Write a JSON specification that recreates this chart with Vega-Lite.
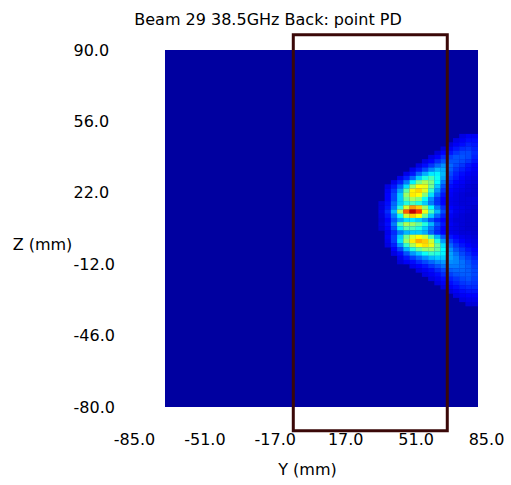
{
  "$schema": "https://vega.github.io/schema/vega-lite/v6.json",
  "autosize": {"type": "none"},
  "padding": {"left": 134, "top": 50, "right": 25, "bottom": 78},
  "width": 352,
  "height": 357,
  "background": "white",
  "title": {"text": "Beam 29 38.5GHz Back: point PD", "anchor": "middle", "frame": "group", "dx": -42, "dy": 19, "baseline": "alphabetic", "offset": 11, "font": "DejaVu Sans", "fontSize": 16, "fontWeight": "normal", "color": "#000000"},
  "config": {
    "view": {"stroke": null},
    "axisX": {"domain": false, "ticks": false, "grid": false, "labelPadding": 24, "labelFont": "DejaVu Sans", "labelFontSize": 16, "labelColor": "#000000", "titleFont": "DejaVu Sans", "titleFontSize": 16, "titleFontWeight": "normal", "titleColor": "#000000", "titleY": 62, "titleBaseline": "middle", "titleX": 173, "labelFlush": false, "labelOverlap": false},
    "axisY": {"domain": false, "ticks": false, "grid": false, "labelAlign": "left", "labelPadding": 61, "labelFont": "DejaVu Sans", "labelFontSize": 16, "labelColor": "#000000", "titleFont": "DejaVu Sans", "titleFontSize": 16, "titleFontWeight": "normal", "titleColor": "#000000", "titleAngle": 0, "titleX": -92, "titleY": 194, "titleAlign": "center", "titleBaseline": "middle", "labelFlush": false, "labelOverlap": false}
  },
  "layer": [
    {
      "data": {"values": [{"y1": -70.03, "y2": 81.14, "z1": -80, "z2": 90}]},
      "mark": {"type": "rect", "color": "#0000a0"},
      "encoding": {
        "x": {"field": "y1", "type": "quantitative", "title": "Y (mm)", "scale": {"domain": [-85, 85], "nice": false, "zero": false}, "axis": {"values": [-85, -51, -17, 17, 51, 85], "labelExpr": "(datum.value < 0 ? '-' : '') + format(abs(datum.value), '.1f')"}},
        "x2": {"field": "y2"},
        "y": {"field": "z1", "type": "quantitative", "title": "Z (mm)", "scale": {"domain": [-80, 90], "nice": false, "zero": false}, "axis": {"values": [-80, -46, -12, 22, 56, 90], "labelExpr": "(datum.value < 0 ? '-' : '') + format(abs(datum.value), '.1f')"}},
        "y2": {"field": "z2"}
      }
    },
    {
      "data": {"values": [
{"y":73.6,"z":49,"v":0.07},{"y":76.6,"z":49,"v":0.09},{"y":79.6,"z":49,"v":0.09},
{"y":70.6,"z":47,"v":0.07},{"y":73.6,"z":47,"v":0.09},{"y":76.6,"z":47,"v":0.11},{"y":79.6,"z":47,"v":0.11},
{"y":67.6,"z":45,"v":0.06},{"y":70.6,"z":45,"v":0.09},{"y":73.6,"z":45,"v":0.11},{"y":76.6,"z":45,"v":0.13},{"y":79.6,"z":45,"v":0.12},
{"y":64.6,"z":43,"v":0.06},{"y":67.6,"z":43,"v":0.09},{"y":70.6,"z":43,"v":0.12},{"y":73.6,"z":43,"v":0.14},{"y":76.6,"z":43,"v":0.15},{"y":79.6,"z":43,"v":0.13},
{"y":61.6,"z":41,"v":0.06},{"y":64.6,"z":41,"v":0.1},{"y":67.6,"z":41,"v":0.12},{"y":70.6,"z":41,"v":0.15},{"y":73.6,"z":41,"v":0.17},{"y":76.6,"z":41,"v":0.17},{"y":79.6,"z":41,"v":0.14},
{"y":58.6,"z":39,"v":0.07},{"y":61.6,"z":39,"v":0.1},{"y":64.6,"z":39,"v":0.14},{"y":67.6,"z":39,"v":0.16},{"y":70.6,"z":39,"v":0.18},{"y":73.6,"z":39,"v":0.18},{"y":76.6,"z":39,"v":0.17},{"y":79.6,"z":39,"v":0.13},
{"y":55.6,"z":37,"v":0.07},{"y":58.6,"z":37,"v":0.1},{"y":61.6,"z":37,"v":0.14},{"y":64.6,"z":37,"v":0.18},{"y":67.6,"z":37,"v":0.18},{"y":70.6,"z":37,"v":0.18},{"y":73.6,"z":37,"v":0.17},{"y":76.6,"z":37,"v":0.15},{"y":79.6,"z":37,"v":0.12},
{"y":52.6,"z":35,"v":0.07},{"y":55.6,"z":35,"v":0.11},{"y":58.6,"z":35,"v":0.15},{"y":61.6,"z":35,"v":0.2},{"y":64.6,"z":35,"v":0.24},{"y":67.6,"z":35,"v":0.2},{"y":70.6,"z":35,"v":0.17},{"y":73.6,"z":35,"v":0.15},{"y":76.6,"z":35,"v":0.12},{"y":79.6,"z":35,"v":0.1},
{"y":49.6,"z":33,"v":0.08},{"y":52.6,"z":33,"v":0.12},{"y":55.6,"z":33,"v":0.17},{"y":58.6,"z":33,"v":0.23},{"y":61.6,"z":33,"v":0.28},{"y":64.6,"z":33,"v":0.27},{"y":67.6,"z":33,"v":0.19},{"y":70.6,"z":33,"v":0.15},{"y":73.6,"z":33,"v":0.13},{"y":76.6,"z":33,"v":0.11},{"y":79.6,"z":33,"v":0.09},
{"y":46.6,"z":31,"v":0.08},{"y":49.6,"z":31,"v":0.12},{"y":52.6,"z":31,"v":0.2},{"y":55.6,"z":31,"v":0.27},{"y":58.6,"z":31,"v":0.33},{"y":61.6,"z":31,"v":0.34},{"y":64.6,"z":31,"v":0.28},{"y":67.6,"z":31,"v":0.17},{"y":70.6,"z":31,"v":0.13},{"y":73.6,"z":31,"v":0.11},{"y":76.6,"z":31,"v":0.09},{"y":79.6,"z":31,"v":0.08},
{"y":43.6,"z":29,"v":0.08},{"y":46.6,"z":29,"v":0.13},{"y":49.6,"z":29,"v":0.2},{"y":52.6,"z":29,"v":0.3},{"y":55.6,"z":29,"v":0.38},{"y":58.6,"z":29,"v":0.42},{"y":61.6,"z":29,"v":0.36},{"y":64.6,"z":29,"v":0.26},{"y":67.6,"z":29,"v":0.15},{"y":70.6,"z":29,"v":0.12},{"y":73.6,"z":29,"v":0.1},{"y":76.6,"z":29,"v":0.08},{"y":79.6,"z":29,"v":0.07},
{"y":40.6,"z":27,"v":0.08},{"y":43.6,"z":27,"v":0.13},{"y":46.6,"z":27,"v":0.22},{"y":49.6,"z":27,"v":0.34},{"y":52.6,"z":27,"v":0.46},{"y":55.6,"z":27,"v":0.52},{"y":58.6,"z":27,"v":0.47},{"y":61.6,"z":27,"v":0.35},{"y":64.6,"z":27,"v":0.22},{"y":67.6,"z":27,"v":0.13},{"y":70.6,"z":27,"v":0.1},{"y":73.6,"z":27,"v":0.09},{"y":76.6,"z":27,"v":0.07},{"y":79.6,"z":27,"v":0.06},
{"y":37.6,"z":25,"v":0.07},{"y":40.6,"z":25,"v":0.12},{"y":43.6,"z":25,"v":0.2},{"y":46.6,"z":25,"v":0.32},{"y":49.6,"z":25,"v":0.5},{"y":52.6,"z":25,"v":0.6},{"y":55.6,"z":25,"v":0.58},{"y":58.6,"z":25,"v":0.46},{"y":61.6,"z":25,"v":0.3},{"y":64.6,"z":25,"v":0.18},{"y":67.6,"z":25,"v":0.11},{"y":70.6,"z":25,"v":0.09},{"y":73.6,"z":25,"v":0.08},{"y":76.6,"z":25,"v":0.06},{"y":79.6,"z":25,"v":0.05},
{"y":37.6,"z":23,"v":0.09},{"y":40.6,"z":23,"v":0.15},{"y":43.6,"z":23,"v":0.26},{"y":46.6,"z":23,"v":0.44},{"y":49.6,"z":23,"v":0.61},{"y":52.6,"z":23,"v":0.64},{"y":55.6,"z":23,"v":0.57},{"y":58.6,"z":23,"v":0.4},{"y":61.6,"z":23,"v":0.25},{"y":64.6,"z":23,"v":0.15},{"y":67.6,"z":23,"v":0.1},{"y":70.6,"z":23,"v":0.08},{"y":73.6,"z":23,"v":0.07},{"y":76.6,"z":23,"v":0.06},{"y":79.6,"z":23,"v":0.05},
{"y":37.6,"z":21,"v":0.1},{"y":40.6,"z":21,"v":0.17},{"y":43.6,"z":21,"v":0.3},{"y":46.6,"z":21,"v":0.5},{"y":49.6,"z":21,"v":0.62},{"y":52.6,"z":21,"v":0.6},{"y":55.6,"z":21,"v":0.48},{"y":58.6,"z":21,"v":0.32},{"y":61.6,"z":21,"v":0.2},{"y":64.6,"z":21,"v":0.12},{"y":67.6,"z":21,"v":0.09},{"y":70.6,"z":21,"v":0.07},{"y":73.6,"z":21,"v":0.06},{"y":76.6,"z":21,"v":0.05},{"y":79.6,"z":21,"v":0.05},
{"y":37.6,"z":19,"v":0.1},{"y":40.6,"z":19,"v":0.17},{"y":43.6,"z":19,"v":0.3},{"y":46.6,"z":19,"v":0.45},{"y":49.6,"z":19,"v":0.52},{"y":52.6,"z":19,"v":0.48},{"y":55.6,"z":19,"v":0.36},{"y":58.6,"z":19,"v":0.24},{"y":61.6,"z":19,"v":0.15},{"y":64.6,"z":19,"v":0.1},{"y":67.6,"z":19,"v":0.08},{"y":70.6,"z":19,"v":0.07},{"y":73.6,"z":19,"v":0.06},{"y":76.6,"z":19,"v":0.06},{"y":79.6,"z":19,"v":0.06},
{"y":34.6,"z":17,"v":0.06},{"y":37.6,"z":17,"v":0.11},{"y":40.6,"z":17,"v":0.2},{"y":43.6,"z":17,"v":0.3},{"y":46.6,"z":17,"v":0.38},{"y":49.6,"z":17,"v":0.42},{"y":52.6,"z":17,"v":0.38},{"y":55.6,"z":17,"v":0.3},{"y":58.6,"z":17,"v":0.22},{"y":61.6,"z":17,"v":0.15},{"y":64.6,"z":17,"v":0.1},{"y":67.6,"z":17,"v":0.08},{"y":70.6,"z":17,"v":0.07},{"y":73.6,"z":17,"v":0.06},{"y":76.6,"z":17,"v":0.06},{"y":79.6,"z":17,"v":0.06},
{"y":34.6,"z":15,"v":0.06},{"y":37.6,"z":15,"v":0.12},{"y":40.6,"z":15,"v":0.22},{"y":43.6,"z":15,"v":0.38},{"y":46.6,"z":15,"v":0.56},{"y":49.6,"z":15,"v":0.7},{"y":52.6,"z":15,"v":0.65},{"y":55.6,"z":15,"v":0.5},{"y":58.6,"z":15,"v":0.35},{"y":61.6,"z":15,"v":0.22},{"y":64.6,"z":15,"v":0.14},{"y":67.6,"z":15,"v":0.1},{"y":70.6,"z":15,"v":0.08},{"y":73.6,"z":15,"v":0.07},{"y":76.6,"z":15,"v":0.06},{"y":79.6,"z":15,"v":0.05},
{"y":34.6,"z":13,"v":0.07},{"y":37.6,"z":13,"v":0.14},{"y":40.6,"z":13,"v":0.28},{"y":43.6,"z":13,"v":0.52},{"y":46.6,"z":13,"v":0.76},{"y":49.6,"z":13,"v":0.92},{"y":52.6,"z":13,"v":0.8},{"y":55.6,"z":13,"v":0.58},{"y":58.6,"z":13,"v":0.42},{"y":61.6,"z":13,"v":0.28},{"y":64.6,"z":13,"v":0.17},{"y":67.6,"z":13,"v":0.11},{"y":70.6,"z":13,"v":0.08},{"y":73.6,"z":13,"v":0.07},{"y":76.6,"z":13,"v":0.06},{"y":79.6,"z":13,"v":0.05},
{"y":34.6,"z":11,"v":0.06},{"y":37.6,"z":11,"v":0.12},{"y":40.6,"z":11,"v":0.22},{"y":43.6,"z":11,"v":0.36},{"y":46.6,"z":11,"v":0.55},{"y":49.6,"z":11,"v":0.65},{"y":52.6,"z":11,"v":0.6},{"y":55.6,"z":11,"v":0.45},{"y":58.6,"z":11,"v":0.3},{"y":61.6,"z":11,"v":0.2},{"y":64.6,"z":11,"v":0.13},{"y":67.6,"z":11,"v":0.09},{"y":70.6,"z":11,"v":0.07},{"y":73.6,"z":11,"v":0.06},{"y":76.6,"z":11,"v":0.05},{"y":79.6,"z":11,"v":0.05},
{"y":34.6,"z":9,"v":0.05},{"y":37.6,"z":9,"v":0.1},{"y":40.6,"z":9,"v":0.18},{"y":43.6,"z":9,"v":0.26},{"y":46.6,"z":9,"v":0.32},{"y":49.6,"z":9,"v":0.33},{"y":52.6,"z":9,"v":0.3},{"y":55.6,"z":9,"v":0.25},{"y":58.6,"z":9,"v":0.18},{"y":61.6,"z":9,"v":0.13},{"y":64.6,"z":9,"v":0.1},{"y":67.6,"z":9,"v":0.08},{"y":70.6,"z":9,"v":0.06},{"y":73.6,"z":9,"v":0.06},{"y":76.6,"z":9,"v":0.05},{"y":79.6,"z":9,"v":0.05},
{"y":34.6,"z":7,"v":0.06},{"y":37.6,"z":7,"v":0.11},{"y":40.6,"z":7,"v":0.22},{"y":43.6,"z":7,"v":0.42},{"y":46.6,"z":7,"v":0.52},{"y":49.6,"z":7,"v":0.5},{"y":52.6,"z":7,"v":0.45},{"y":55.6,"z":7,"v":0.38},{"y":58.6,"z":7,"v":0.28},{"y":61.6,"z":7,"v":0.18},{"y":64.6,"z":7,"v":0.12},{"y":67.6,"z":7,"v":0.09},{"y":70.6,"z":7,"v":0.07},{"y":73.6,"z":7,"v":0.06},{"y":76.6,"z":7,"v":0.05},{"y":79.6,"z":7,"v":0.05},
{"y":34.6,"z":5,"v":0.05},{"y":37.6,"z":5,"v":0.1},{"y":40.6,"z":5,"v":0.18},{"y":43.6,"z":5,"v":0.33},{"y":46.6,"z":5,"v":0.43},{"y":49.6,"z":5,"v":0.42},{"y":52.6,"z":5,"v":0.38},{"y":55.6,"z":5,"v":0.3},{"y":58.6,"z":5,"v":0.22},{"y":61.6,"z":5,"v":0.15},{"y":64.6,"z":5,"v":0.1},{"y":67.6,"z":5,"v":0.08},{"y":70.6,"z":5,"v":0.07},{"y":73.6,"z":5,"v":0.06},{"y":76.6,"z":5,"v":0.05},{"y":79.6,"z":5,"v":0.05},
{"y":37.6,"z":3,"v":0.08},{"y":40.6,"z":3,"v":0.14},{"y":43.6,"z":3,"v":0.22},{"y":46.6,"z":3,"v":0.28},{"y":49.6,"z":3,"v":0.3},{"y":52.6,"z":3,"v":0.3},{"y":55.6,"z":3,"v":0.27},{"y":58.6,"z":3,"v":0.2},{"y":61.6,"z":3,"v":0.14},{"y":64.6,"z":3,"v":0.1},{"y":67.6,"z":3,"v":0.08},{"y":70.6,"z":3,"v":0.07},{"y":73.6,"z":3,"v":0.06},{"y":76.6,"z":3,"v":0.06},{"y":79.6,"z":3,"v":0.05},
{"y":37.6,"z":1,"v":0.09},{"y":40.6,"z":1,"v":0.16},{"y":43.6,"z":1,"v":0.3},{"y":46.6,"z":1,"v":0.46},{"y":49.6,"z":1,"v":0.56},{"y":52.6,"z":1,"v":0.6},{"y":55.6,"z":1,"v":0.55},{"y":58.6,"z":1,"v":0.42},{"y":61.6,"z":1,"v":0.28},{"y":64.6,"z":1,"v":0.18},{"y":67.6,"z":1,"v":0.12},{"y":70.6,"z":1,"v":0.1},{"y":73.6,"z":1,"v":0.08},{"y":76.6,"z":1,"v":0.07},{"y":79.6,"z":1,"v":0.06},
{"y":37.6,"z":-1,"v":0.08},{"y":40.6,"z":-1,"v":0.16},{"y":43.6,"z":-1,"v":0.32},{"y":46.6,"z":-1,"v":0.5},{"y":49.6,"z":-1,"v":0.62},{"y":52.6,"z":-1,"v":0.68},{"y":55.6,"z":-1,"v":0.65},{"y":58.6,"z":-1,"v":0.55},{"y":61.6,"z":-1,"v":0.38},{"y":64.6,"z":-1,"v":0.25},{"y":67.6,"z":-1,"v":0.16},{"y":70.6,"z":-1,"v":0.12},{"y":73.6,"z":-1,"v":0.1},{"y":76.6,"z":-1,"v":0.08},{"y":79.6,"z":-1,"v":0.07},
{"y":37.6,"z":-3,"v":0.07},{"y":40.6,"z":-3,"v":0.13},{"y":43.6,"z":-3,"v":0.25},{"y":46.6,"z":-3,"v":0.4},{"y":49.6,"z":-3,"v":0.52},{"y":52.6,"z":-3,"v":0.6},{"y":55.6,"z":-3,"v":0.63},{"y":58.6,"z":-3,"v":0.58},{"y":61.6,"z":-3,"v":0.45},{"y":64.6,"z":-3,"v":0.32},{"y":67.6,"z":-3,"v":0.2},{"y":70.6,"z":-3,"v":0.15},{"y":73.6,"z":-3,"v":0.12},{"y":76.6,"z":-3,"v":0.1},{"y":79.6,"z":-3,"v":0.08},
{"y":40.6,"z":-5,"v":0.1},{"y":43.6,"z":-5,"v":0.17},{"y":46.6,"z":-5,"v":0.28},{"y":49.6,"z":-5,"v":0.38},{"y":52.6,"z":-5,"v":0.45},{"y":55.6,"z":-5,"v":0.5},{"y":58.6,"z":-5,"v":0.5},{"y":61.6,"z":-5,"v":0.44},{"y":64.6,"z":-5,"v":0.35},{"y":67.6,"z":-5,"v":0.24},{"y":70.6,"z":-5,"v":0.18},{"y":73.6,"z":-5,"v":0.15},{"y":76.6,"z":-5,"v":0.12},{"y":79.6,"z":-5,"v":0.1},
{"y":40.6,"z":-7,"v":0.07},{"y":43.6,"z":-7,"v":0.11},{"y":46.6,"z":-7,"v":0.18},{"y":49.6,"z":-7,"v":0.25},{"y":52.6,"z":-7,"v":0.3},{"y":55.6,"z":-7,"v":0.36},{"y":58.6,"z":-7,"v":0.4},{"y":61.6,"z":-7,"v":0.38},{"y":64.6,"z":-7,"v":0.34},{"y":67.6,"z":-7,"v":0.26},{"y":70.6,"z":-7,"v":0.21},{"y":73.6,"z":-7,"v":0.17},{"y":76.6,"z":-7,"v":0.14},{"y":79.6,"z":-7,"v":0.11},
{"y":43.6,"z":-9,"v":0.08},{"y":46.6,"z":-9,"v":0.12},{"y":49.6,"z":-9,"v":0.16},{"y":52.6,"z":-9,"v":0.2},{"y":55.6,"z":-9,"v":0.24},{"y":58.6,"z":-9,"v":0.28},{"y":61.6,"z":-9,"v":0.3},{"y":64.6,"z":-9,"v":0.3},{"y":67.6,"z":-9,"v":0.26},{"y":70.6,"z":-9,"v":0.23},{"y":73.6,"z":-9,"v":0.19},{"y":76.6,"z":-9,"v":0.16},{"y":79.6,"z":-9,"v":0.13},
{"y":43.6,"z":-11,"v":0.06},{"y":46.6,"z":-11,"v":0.09},{"y":49.6,"z":-11,"v":0.11},{"y":52.6,"z":-11,"v":0.14},{"y":55.6,"z":-11,"v":0.17},{"y":58.6,"z":-11,"v":0.2},{"y":61.6,"z":-11,"v":0.23},{"y":64.6,"z":-11,"v":0.25},{"y":67.6,"z":-11,"v":0.24},{"y":70.6,"z":-11,"v":0.23},{"y":73.6,"z":-11,"v":0.21},{"y":76.6,"z":-11,"v":0.18},{"y":79.6,"z":-11,"v":0.15},
{"y":49.6,"z":-13,"v":0.08},{"y":52.6,"z":-13,"v":0.1},{"y":55.6,"z":-13,"v":0.12},{"y":58.6,"z":-13,"v":0.15},{"y":61.6,"z":-13,"v":0.18},{"y":64.6,"z":-13,"v":0.21},{"y":67.6,"z":-13,"v":0.22},{"y":70.6,"z":-13,"v":0.22},{"y":73.6,"z":-13,"v":0.21},{"y":76.6,"z":-13,"v":0.19},{"y":79.6,"z":-13,"v":0.16},
{"y":52.6,"z":-15,"v":0.07},{"y":55.6,"z":-15,"v":0.09},{"y":58.6,"z":-15,"v":0.11},{"y":61.6,"z":-15,"v":0.14},{"y":64.6,"z":-15,"v":0.17},{"y":67.6,"z":-15,"v":0.19},{"y":70.6,"z":-15,"v":0.2},{"y":73.6,"z":-15,"v":0.2},{"y":76.6,"z":-15,"v":0.19},{"y":79.6,"z":-15,"v":0.17},
{"y":55.6,"z":-17,"v":0.07},{"y":58.6,"z":-17,"v":0.09},{"y":61.6,"z":-17,"v":0.11},{"y":64.6,"z":-17,"v":0.14},{"y":67.6,"z":-17,"v":0.16},{"y":70.6,"z":-17,"v":0.18},{"y":73.6,"z":-17,"v":0.19},{"y":76.6,"z":-17,"v":0.19},{"y":79.6,"z":-17,"v":0.17},
{"y":58.6,"z":-19,"v":0.07},{"y":61.6,"z":-19,"v":0.09},{"y":64.6,"z":-19,"v":0.11},{"y":67.6,"z":-19,"v":0.13},{"y":70.6,"z":-19,"v":0.15},{"y":73.6,"z":-19,"v":0.17},{"y":76.6,"z":-19,"v":0.18},{"y":79.6,"z":-19,"v":0.16},
{"y":61.6,"z":-21,"v":0.07},{"y":64.6,"z":-21,"v":0.09},{"y":67.6,"z":-21,"v":0.11},{"y":70.6,"z":-21,"v":0.13},{"y":73.6,"z":-21,"v":0.15},{"y":76.6,"z":-21,"v":0.16},{"y":79.6,"z":-21,"v":0.15},
{"y":64.6,"z":-23,"v":0.07},{"y":67.6,"z":-23,"v":0.09},{"y":70.6,"z":-23,"v":0.11},{"y":73.6,"z":-23,"v":0.13},{"y":76.6,"z":-23,"v":0.14},{"y":79.6,"z":-23,"v":0.14},
{"y":67.6,"z":-25,"v":0.07},{"y":70.6,"z":-25,"v":0.09},{"y":73.6,"z":-25,"v":0.11},{"y":76.6,"z":-25,"v":0.12},{"y":79.6,"z":-25,"v":0.12},
{"y":70.6,"z":-27,"v":0.07},{"y":73.6,"z":-27,"v":0.09},{"y":76.6,"z":-27,"v":0.1},{"y":79.6,"z":-27,"v":0.1},
{"y":73.6,"z":-29,"v":0.07},{"y":76.6,"z":-29,"v":0.08},{"y":79.6,"z":-29,"v":0.08},
{"y":76.6,"z":-31,"v":0.06},{"y":79.6,"z":-31,"v":0.06}
      ]},
      "mark": {"type": "rect", "width": 6.4, "height": 4.4},
      "encoding": {
        "x": {"field": "y", "type": "quantitative", "title": "Y (mm)"},
        "y": {"field": "z", "type": "quantitative", "title": "Z (mm)"},
        "color": {"field": "v", "type": "quantitative", "legend": null, "scale": {"domain": [0, 0.1, 0.35, 0.6, 0.85, 1], "range": ["#0000a0", "#0000ff", "#00ffff", "#ffff00", "#ff0000", "#800000"], "interpolate": "rgb"}}
      }
    },
    {
      "data": {"values": [{"y1": -8.07, "y2": 66.3, "z1": -91.29, "z2": 97.29}]},
      "mark": {"type": "rect", "filled": false, "stroke": "#3a0808", "strokeWidth": 3},
      "encoding": {
        "x": {"field": "y1", "type": "quantitative", "title": "Y (mm)"},
        "x2": {"field": "y2"},
        "y": {"field": "z1", "type": "quantitative", "title": "Z (mm)"},
        "y2": {"field": "z2"}
      }
    }
  ]
}
